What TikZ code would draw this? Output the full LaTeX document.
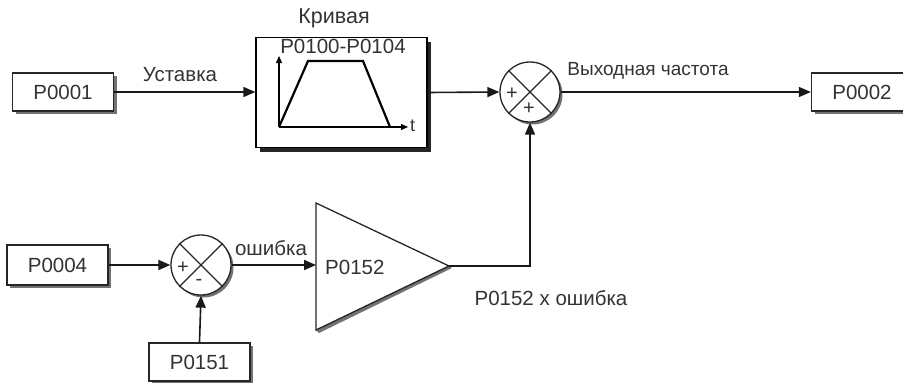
\documentclass[tikz,border=0pt]{standalone}
\usepackage{fontspec}
\setmainfont{Liberation Sans}
\usetikzlibrary{arrows.meta,shadows,calc}
\begin{document}
\begin{tikzpicture}[x=1pt,y=-1pt,
  txt/.style={text=black!80,font=\fontsize{20.5}{23}\selectfont,inner sep=0pt},
  sgn/.style={text=black!80,font=\fontsize{20}{22}\selectfont,inner sep=0pt},
  pbox/.style={draw=black!85,line width=1.3pt,fill=white,minimum width=101pt,minimum height=38pt,inner sep=0pt,
    text=black!80,font=\fontsize{20.5}{23}\selectfont,
    drop shadow={shadow xshift=3pt,shadow yshift=-3pt,fill=black!55,opacity=1}},
  cbox/.style={draw=black,line width=1.3pt,fill=white,minimum width=171pt,minimum height=110pt,inner sep=0pt,
    drop shadow={shadow xshift=4pt,shadow yshift=-4pt,fill=black!85,opacity=1}},
  sumc/.style={circle,draw=black!85,line width=1.3pt,fill=white,minimum size=60pt,inner sep=0pt,
    drop shadow={shadow xshift=2.5pt,shadow yshift=-2.5pt,fill=black!55,opacity=1}},
  conn/.style={line width=1.6pt,draw=black!90},
  arr/.style={conn,-{Triangle[length=12pt,width=10pt]}},
  ax/.style={line width=1.2pt,-{Triangle[length=7pt,width=6pt]}}
]
\useasboundingbox (0,0) rectangle (903,383);

% boxes
\node[pbox] (p1) at (63,92) {P0001};
\node[pbox] (p2) at (862,92) {P0002};
\node[pbox,minimum height=40pt] (p4) at (57.5,265) {P0004};
\node[pbox] (p151) at (199.5,362) {P0151};

% curve box
\node[cbox] (cb) at (341.5,92.5) {};
\coordinate (o) at (279,127);
\coordinate (ytop) at (279,56);
\coordinate (xend) at (408,127);
\draw[ax] (o) -- (ytop);
\draw[ax] (o) -- (xend);
\node[txt,font=\fontsize{18}{20}\selectfont,anchor=west] (tl) at (410,126) {t};
\draw[line width=2.2pt,line join=miter] (o) -- (308,61) -- (363,61) -- (390,127);
\node[txt] (crange) at (343,46) {P0100-P0104};
\node[txt,font=\fontsize{21.5}{24}\selectfont] (cname) at (334,18) {Кривая};

% summing junctions
\node[sumc] (s1) at (530,92) {};
\draw[line width=1.2pt,black!85] (s1.135) -- (s1.-45);
\draw[line width=1.2pt,black!85] (s1.45) -- (s1.-135);
\node[sgn] (s1a) at ($(s1)+(-18,2)$) {+};
\node[sgn] (s1b) at ($(s1)+(-1,17)$) {+};

\node[sumc] (s2) at (201,265) {};
\draw[line width=1.2pt,black!85] (s2.135) -- (s2.-45);
\draw[line width=1.2pt,black!85] (s2.45) -- (s2.-135);
\node[sgn] (s2a) at ($(s2)+(-18,3)$) {+};
\node[sgn] (s2b) at ($(s2)+(-2,17)$) {-};

% gain triangle
\coordinate (ttop) at (316,203);
\coordinate (tbot) at (316,330);
\coordinate (tap) at (449,266);
\coordinate (tin) at (316,265);
\fill[black!55] ($(tbot)+(3,3)$) -- ($(tap)+(3,2)$) -- (tap) -- (tbot) -- cycle;
\draw[line width=1.3pt,black!85,fill=white,line join=miter] (ttop) -- (tap) -- (tbot) -- cycle;
\node[txt,anchor=west] (gain) at (325,267) {P0152};

% connectors
\draw[arr] (p1.east) -- (p1.east -| cb.west);
\draw[arr] (cb.east) -- (s1.west);
\draw[arr] (s1.east) -- (p2.west);
\draw[arr] (p4.east) -- (s2.west);
\draw[arr] (p151.north) -- (s2.south);
\draw[arr] (s2.east) -- (tin);
\draw[arr] (tap) -- (tap -| s1) -- (s1.south);

% labels
\node[txt] (l1) at (180,75) {Уставка};
\node[txt,font=\fontsize{19}{22}\selectfont] (l2) at (648,71) {Выходная частота};
\node[txt] (l3) at (271,248) {ошибка};
\node[txt] (l4) at (551,298) {P0152 x ошибка};
\end{tikzpicture}
\end{document}
